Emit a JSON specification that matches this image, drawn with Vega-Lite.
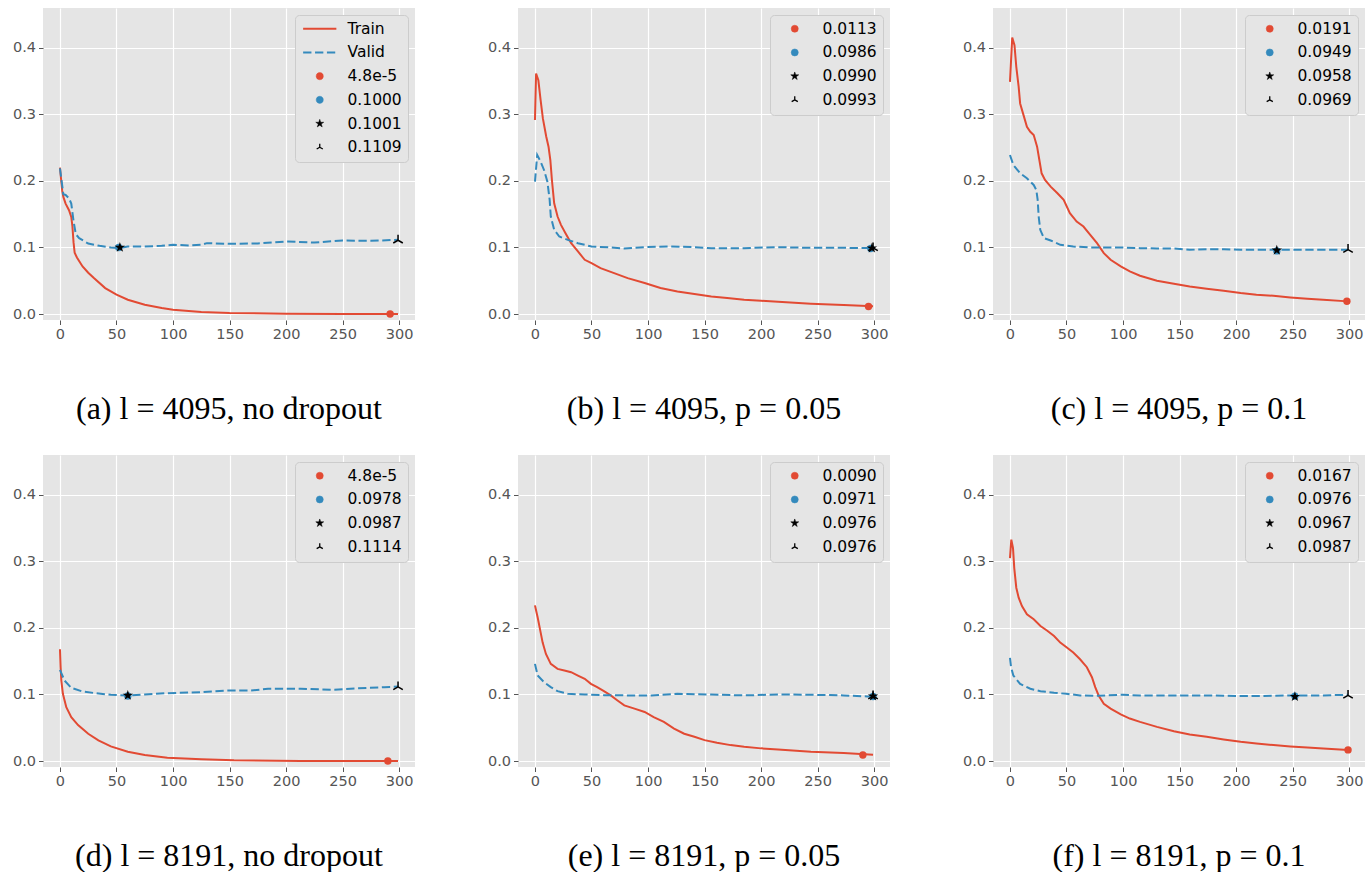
{
  "$schema": "https://vega.github.io/schema/vega-lite/v6.json",
  "padding": {"left": 12, "top": 8, "right": 4, "bottom": 0},
  "background": "white",
  "config": {
    "view": {"fill": "#E5E5E5", "stroke": null},
    "axis": {"domain": false, "grid": true, "gridColor": "#FFFFFF", "gridWidth": 1.2, "tickColor": "#555555", "tickSize": 4.5, "tickWidth": 1, "labelColor": "#555555", "labelFont": "DejaVu Sans", "labelFontSize": 14.5, "labelPadding": 3, "title": null},
    "legend": {"orient": "top-right", "offset": 7, "padding": 6, "fillColor": "#E5E5E5", "strokeColor": "#CCCCCC", "cornerRadius": 4, "labelFont": "DejaVu Sans", "labelFontSize": 15.5, "labelColor": "#000000", "rowPadding": 6.7, "symbolOffset": 11, "labelOffset": 20, "symbolSize": 50},
    "title": {"font": "Liberation Serif", "fontSize": 32, "fontWeight": "normal", "color": "#000000", "orient": "bottom", "anchor": "middle", "offset": 53}
  },
  "datasets": {
    "lines": [
      {"p":"a","k":"train","x":0,"y":0.22},{"p":"a","k":"train","x":2,"y":0.185},{"p":"a","k":"train","x":3,"y":0.176},{"p":"a","k":"train","x":5,"y":0.166},{"p":"a","k":"train","x":8,"y":0.156},{"p":"a","k":"train","x":10,"y":0.146},{"p":"a","k":"train","x":11,"y":0.132},{"p":"a","k":"train","x":12,"y":0.108},{"p":"a","k":"train","x":13,"y":0.092},{"p":"a","k":"train","x":15,"y":0.085},{"p":"a","k":"train","x":20,"y":0.0715},{"p":"a","k":"train","x":25,"y":0.062},{"p":"a","k":"train","x":30,"y":0.054},{"p":"a","k":"train","x":40,"y":0.039},{"p":"a","k":"train","x":50,"y":0.029},{"p":"a","k":"train","x":60,"y":0.0215},{"p":"a","k":"train","x":75,"y":0.014},{"p":"a","k":"train","x":90,"y":0.009},{"p":"a","k":"train","x":100,"y":0.0065},{"p":"a","k":"train","x":125,"y":0.003},{"p":"a","k":"train","x":150,"y":0.0015},{"p":"a","k":"train","x":200,"y":0.0005},{"p":"a","k":"train","x":250,"y":0.0002},{"p":"a","k":"train","x":299,"y":0.0},
      {"p":"a","k":"valid","x":0,"y":0.219},{"p":"a","k":"valid","x":3,"y":0.18},{"p":"a","k":"valid","x":5,"y":0.179},{"p":"a","k":"valid","x":8,"y":0.174},{"p":"a","k":"valid","x":10,"y":0.166},{"p":"a","k":"valid","x":12,"y":0.14},{"p":"a","k":"valid","x":14,"y":0.12},{"p":"a","k":"valid","x":17,"y":0.114},{"p":"a","k":"valid","x":25,"y":0.106},{"p":"a","k":"valid","x":35,"y":0.1025},{"p":"a","k":"valid","x":45,"y":0.1},{"p":"a","k":"valid","x":52,"y":0.099},{"p":"a","k":"valid","x":60,"y":0.1015},{"p":"a","k":"valid","x":75,"y":0.1015},{"p":"a","k":"valid","x":90,"y":0.1025},{"p":"a","k":"valid","x":100,"y":0.104},{"p":"a","k":"valid","x":115,"y":0.103},{"p":"a","k":"valid","x":125,"y":0.104},{"p":"a","k":"valid","x":130,"y":0.1065},{"p":"a","k":"valid","x":150,"y":0.1055},{"p":"a","k":"valid","x":175,"y":0.106},{"p":"a","k":"valid","x":200,"y":0.109},{"p":"a","k":"valid","x":225,"y":0.1075},{"p":"a","k":"valid","x":250,"y":0.1105},{"p":"a","k":"valid","x":275,"y":0.11},{"p":"a","k":"valid","x":299,"y":0.1115},
      {"p":"b","k":"train","x":0,"y":0.2915},{"p":"b","k":"train","x":1,"y":0.3615},{"p":"b","k":"train","x":3,"y":0.3515},{"p":"b","k":"train","x":5,"y":0.3215},{"p":"b","k":"train","x":7,"y":0.294},{"p":"b","k":"train","x":10,"y":0.2665},{"p":"b","k":"train","x":12,"y":0.2515},{"p":"b","k":"train","x":13.6,"y":0.2315},{"p":"b","k":"train","x":15,"y":0.2015},{"p":"b","k":"train","x":17,"y":0.1665},{"p":"b","k":"train","x":20,"y":0.1465},{"p":"b","k":"train","x":23,"y":0.134},{"p":"b","k":"train","x":27,"y":0.1215},{"p":"b","k":"train","x":32,"y":0.1065},{"p":"b","k":"train","x":38,"y":0.094},{"p":"b","k":"train","x":44,"y":0.0815},{"p":"b","k":"train","x":50,"y":0.0765},{"p":"b","k":"train","x":58,"y":0.069},{"p":"b","k":"train","x":70,"y":0.0615},{"p":"b","k":"train","x":82,"y":0.054},{"p":"b","k":"train","x":97,"y":0.0465},{"p":"b","k":"train","x":111,"y":0.039},{"p":"b","k":"train","x":126,"y":0.034},{"p":"b","k":"train","x":141,"y":0.03},{"p":"b","k":"train","x":156,"y":0.0265},{"p":"b","k":"train","x":170,"y":0.024},{"p":"b","k":"train","x":185,"y":0.0215},{"p":"b","k":"train","x":200,"y":0.02},{"p":"b","k":"train","x":215,"y":0.0185},{"p":"b","k":"train","x":244,"y":0.0155},{"p":"b","k":"train","x":273,"y":0.0135},{"p":"b","k":"train","x":299,"y":0.0115},
      {"p":"b","k":"valid","x":0,"y":0.199},{"p":"b","k":"valid","x":2,"y":0.239},{"p":"b","k":"valid","x":5,"y":0.229},{"p":"b","k":"valid","x":8,"y":0.2165},{"p":"b","k":"valid","x":11,"y":0.199},{"p":"b","k":"valid","x":13,"y":0.1715},{"p":"b","k":"valid","x":14,"y":0.1465},{"p":"b","k":"valid","x":17,"y":0.1265},{"p":"b","k":"valid","x":21.5,"y":0.1165},{"p":"b","k":"valid","x":29,"y":0.1115},{"p":"b","k":"valid","x":38,"y":0.1065},{"p":"b","k":"valid","x":50,"y":0.1015},{"p":"b","k":"valid","x":67,"y":0.1},{"p":"b","k":"valid","x":79,"y":0.0985},{"p":"b","k":"valid","x":97,"y":0.1005},{"p":"b","k":"valid","x":120,"y":0.1015},{"p":"b","k":"valid","x":141,"y":0.1005},{"p":"b","k":"valid","x":156,"y":0.099},{"p":"b","k":"valid","x":185,"y":0.099},{"p":"b","k":"valid","x":215,"y":0.1005},{"p":"b","k":"valid","x":244,"y":0.0995},{"p":"b","k":"valid","x":273,"y":0.0995},{"p":"b","k":"valid","x":299,"y":0.099},
      {"p":"c","k":"train","x":0,"y":0.349},{"p":"c","k":"train","x":2,"y":0.4155},{"p":"c","k":"train","x":4,"y":0.404},{"p":"c","k":"train","x":5.6,"y":0.3715},{"p":"c","k":"train","x":7.7,"y":0.3415},{"p":"c","k":"train","x":9,"y":0.3165},{"p":"c","k":"train","x":12,"y":0.299},{"p":"c","k":"train","x":15,"y":0.2815},{"p":"c","k":"train","x":18,"y":0.274},{"p":"c","k":"train","x":21,"y":0.269},{"p":"c","k":"train","x":24,"y":0.2515},{"p":"c","k":"train","x":26,"y":0.2315},{"p":"c","k":"train","x":28,"y":0.2115},{"p":"c","k":"train","x":31,"y":0.2015},{"p":"c","k":"train","x":36,"y":0.1915},{"p":"c","k":"train","x":42,"y":0.1815},{"p":"c","k":"train","x":47.5,"y":0.1715},{"p":"c","k":"train","x":53,"y":0.1515},{"p":"c","k":"train","x":59,"y":0.139},{"p":"c","k":"train","x":65,"y":0.1315},{"p":"c","k":"train","x":71,"y":0.119},{"p":"c","k":"train","x":77,"y":0.1065},{"p":"c","k":"train","x":83,"y":0.0915},{"p":"c","k":"train","x":89,"y":0.0815},{"p":"c","k":"train","x":98,"y":0.0715},{"p":"c","k":"train","x":106,"y":0.064},{"p":"c","k":"train","x":115,"y":0.0575},{"p":"c","k":"train","x":130,"y":0.05},{"p":"c","k":"train","x":145,"y":0.0455},{"p":"c","k":"train","x":159,"y":0.0415},{"p":"c","k":"train","x":174,"y":0.038},{"p":"c","k":"train","x":189,"y":0.035},{"p":"c","k":"train","x":204,"y":0.0315},{"p":"c","k":"train","x":218,"y":0.029},{"p":"c","k":"train","x":233,"y":0.0275},{"p":"c","k":"train","x":248,"y":0.025},{"p":"c","k":"train","x":263,"y":0.023},{"p":"c","k":"train","x":277,"y":0.0215},{"p":"c","k":"train","x":299,"y":0.019},
      {"p":"c","k":"valid","x":0,"y":0.239},{"p":"c","k":"valid","x":3,"y":0.224},{"p":"c","k":"valid","x":9,"y":0.2115},{"p":"c","k":"valid","x":15,"y":0.204},{"p":"c","k":"valid","x":21,"y":0.194},{"p":"c","k":"valid","x":23.3,"y":0.1865},{"p":"c","k":"valid","x":24.5,"y":0.1715},{"p":"c","k":"valid","x":25.4,"y":0.1465},{"p":"c","k":"valid","x":26.8,"y":0.1265},{"p":"c","k":"valid","x":30,"y":0.114},{"p":"c","k":"valid","x":36,"y":0.1105},{"p":"c","k":"valid","x":44.5,"y":0.104},{"p":"c","k":"valid","x":56,"y":0.1015},{"p":"c","k":"valid","x":71,"y":0.1},{"p":"c","k":"valid","x":86,"y":0.1},{"p":"c","k":"valid","x":100,"y":0.1},{"p":"c","k":"valid","x":115,"y":0.099},{"p":"c","k":"valid","x":130,"y":0.0985},{"p":"c","k":"valid","x":145,"y":0.0985},{"p":"c","k":"valid","x":159,"y":0.0965},{"p":"c","k":"valid","x":174,"y":0.0975},{"p":"c","k":"valid","x":189,"y":0.0975},{"p":"c","k":"valid","x":204,"y":0.0965},{"p":"c","k":"valid","x":233,"y":0.0965},{"p":"c","k":"valid","x":262,"y":0.0965},{"p":"c","k":"valid","x":299,"y":0.0965},
      {"p":"d","k":"train","x":0,"y":0.168},{"p":"d","k":"train","x":0.6,"y":0.141},{"p":"d","k":"train","x":1.2,"y":0.121},{"p":"d","k":"train","x":2.6,"y":0.101},{"p":"d","k":"train","x":5.6,"y":0.081},{"p":"d","k":"train","x":10,"y":0.066},{"p":"d","k":"train","x":16,"y":0.054},{"p":"d","k":"train","x":25,"y":0.041},{"p":"d","k":"train","x":34,"y":0.031},{"p":"d","k":"train","x":45,"y":0.022},{"p":"d","k":"train","x":60,"y":0.014},{"p":"d","k":"train","x":75,"y":0.009},{"p":"d","k":"train","x":95,"y":0.005},{"p":"d","k":"train","x":125,"y":0.0025},{"p":"d","k":"train","x":154,"y":0.001},{"p":"d","k":"train","x":213,"y":0.0002},{"p":"d","k":"train","x":299,"y":0.0},
      {"p":"d","k":"valid","x":0,"y":0.137},{"p":"d","k":"valid","x":4,"y":0.121},{"p":"d","k":"valid","x":10,"y":0.11},{"p":"d","k":"valid","x":19,"y":0.105},{"p":"d","k":"valid","x":31,"y":0.102},{"p":"d","k":"valid","x":45,"y":0.0996},{"p":"d","k":"valid","x":60,"y":0.0986},{"p":"d","k":"valid","x":75,"y":0.1},{"p":"d","k":"valid","x":95,"y":0.102},{"p":"d","k":"valid","x":125,"y":0.1036},{"p":"d","k":"valid","x":148,"y":0.106},{"p":"d","k":"valid","x":169,"y":0.106},{"p":"d","k":"valid","x":184,"y":0.1086},{"p":"d","k":"valid","x":213,"y":0.1086},{"p":"d","k":"valid","x":242,"y":0.107},{"p":"d","k":"valid","x":257,"y":0.1086},{"p":"d","k":"valid","x":272,"y":0.11},{"p":"d","k":"valid","x":287,"y":0.111},{"p":"d","k":"valid","x":299,"y":0.112},
      {"p":"e","k":"train","x":0,"y":0.234},{"p":"e","k":"train","x":2.4,"y":0.2157},{"p":"e","k":"train","x":4.7,"y":0.196},{"p":"e","k":"train","x":6.8,"y":0.178},{"p":"e","k":"train","x":9.7,"y":0.161},{"p":"e","k":"train","x":14,"y":0.146},{"p":"e","k":"train","x":20,"y":0.1385},{"p":"e","k":"train","x":26,"y":0.136},{"p":"e","k":"train","x":32,"y":0.1335},{"p":"e","k":"train","x":38,"y":0.1285},{"p":"e","k":"train","x":44,"y":0.1236},{"p":"e","k":"train","x":49.5,"y":0.116},{"p":"e","k":"train","x":55,"y":0.111},{"p":"e","k":"train","x":61,"y":0.105},{"p":"e","k":"train","x":67,"y":0.0986},{"p":"e","k":"train","x":73,"y":0.091},{"p":"e","k":"train","x":79,"y":0.0837},{"p":"e","k":"train","x":88,"y":0.0787},{"p":"e","k":"train","x":97,"y":0.0737},{"p":"e","k":"train","x":105,"y":0.066},{"p":"e","k":"train","x":114,"y":0.0588},{"p":"e","k":"train","x":123,"y":0.0488},{"p":"e","k":"train","x":132,"y":0.041},{"p":"e","k":"train","x":141,"y":0.0364},{"p":"e","k":"train","x":150,"y":0.0314},{"p":"e","k":"train","x":161,"y":0.0274},{"p":"e","k":"train","x":173,"y":0.0239},{"p":"e","k":"train","x":185,"y":0.0214},{"p":"e","k":"train","x":200,"y":0.019},{"p":"e","k":"train","x":215,"y":0.0174},{"p":"e","k":"train","x":244,"y":0.014},{"p":"e","k":"train","x":273,"y":0.012},{"p":"e","k":"train","x":299,"y":0.0095},
      {"p":"e","k":"valid","x":0,"y":0.146},{"p":"e","k":"valid","x":2.4,"y":0.1285},{"p":"e","k":"valid","x":8,"y":0.1186},{"p":"e","k":"valid","x":14,"y":0.111},{"p":"e","k":"valid","x":20,"y":0.105},{"p":"e","k":"valid","x":29,"y":0.101},{"p":"e","k":"valid","x":44,"y":0.1},{"p":"e","k":"valid","x":61,"y":0.099},{"p":"e","k":"valid","x":82,"y":0.0986},{"p":"e","k":"valid","x":103,"y":0.0986},{"p":"e","k":"valid","x":126,"y":0.101},{"p":"e","k":"valid","x":156,"y":0.1},{"p":"e","k":"valid","x":185,"y":0.0986},{"p":"e","k":"valid","x":215,"y":0.1},{"p":"e","k":"valid","x":244,"y":0.0996},{"p":"e","k":"valid","x":273,"y":0.0986},{"p":"e","k":"valid","x":294,"y":0.097},{"p":"e","k":"valid","x":299,"y":0.097},
      {"p":"f","k":"train","x":0,"y":0.305},{"p":"f","k":"train","x":1.2,"y":0.3327},{"p":"f","k":"train","x":2.7,"y":0.32},{"p":"f","k":"train","x":3.8,"y":0.29},{"p":"f","k":"train","x":5.6,"y":0.2605},{"p":"f","k":"train","x":7.7,"y":0.2455},{"p":"f","k":"train","x":10.6,"y":0.233},{"p":"f","k":"train","x":15,"y":0.2207},{"p":"f","k":"train","x":21,"y":0.213},{"p":"f","k":"train","x":27,"y":0.203},{"p":"f","k":"train","x":33,"y":0.1958},{"p":"f","k":"train","x":39,"y":0.188},{"p":"f","k":"train","x":44.5,"y":0.178},{"p":"f","k":"train","x":50,"y":0.171},{"p":"f","k":"train","x":56,"y":0.163},{"p":"f","k":"train","x":62,"y":0.153},{"p":"f","k":"train","x":68,"y":0.141},{"p":"f","k":"train","x":72.5,"y":0.126},{"p":"f","k":"train","x":75.4,"y":0.111},{"p":"f","k":"train","x":78.4,"y":0.0986},{"p":"f","k":"train","x":83,"y":0.086},{"p":"f","k":"train","x":89,"y":0.0787},{"p":"f","k":"train","x":98,"y":0.07},{"p":"f","k":"train","x":106,"y":0.0638},{"p":"f","k":"train","x":115,"y":0.0588},{"p":"f","k":"train","x":130,"y":0.0513},{"p":"f","k":"train","x":145,"y":0.0448},{"p":"f","k":"train","x":159,"y":0.04},{"p":"f","k":"train","x":174,"y":0.0364},{"p":"f","k":"train","x":189,"y":0.0324},{"p":"f","k":"train","x":204,"y":0.0289},{"p":"f","k":"train","x":218,"y":0.0264},{"p":"f","k":"train","x":233,"y":0.0239},{"p":"f","k":"train","x":248,"y":0.0219},{"p":"f","k":"train","x":263,"y":0.0204},{"p":"f","k":"train","x":277,"y":0.0189},{"p":"f","k":"train","x":299,"y":0.0167},
      {"p":"f","k":"valid","x":0,"y":0.155},{"p":"f","k":"valid","x":1,"y":0.141},{"p":"f","k":"valid","x":3,"y":0.1285},{"p":"f","k":"valid","x":9,"y":0.116},{"p":"f","k":"valid","x":18,"y":0.1086},{"p":"f","k":"valid","x":27,"y":0.105},{"p":"f","k":"valid","x":39,"y":0.1026},{"p":"f","k":"valid","x":50,"y":0.101},{"p":"f","k":"valid","x":62,"y":0.0986},{"p":"f","k":"valid","x":74,"y":0.098},{"p":"f","k":"valid","x":86,"y":0.0986},{"p":"f","k":"valid","x":100,"y":0.0996},{"p":"f","k":"valid","x":115,"y":0.0986},{"p":"f","k":"valid","x":145,"y":0.0986},{"p":"f","k":"valid","x":174,"y":0.0986},{"p":"f","k":"valid","x":204,"y":0.0976},{"p":"f","k":"valid","x":233,"y":0.098},{"p":"f","k":"valid","x":251,"y":0.0986},{"p":"f","k":"valid","x":277,"y":0.0986},{"p":"f","k":"valid","x":299,"y":0.0996}
    ],
    "marks": [
      {"p":"a","k":"rc","x":292,"y":0.000048},{"p":"a","k":"bc","x":52,"y":0.1},{"p":"a","k":"star","x":53,"y":0.1001},{"p":"a","k":"tri","x":299,"y":0.1109},
      {"p":"b","k":"rc","x":295,"y":0.0113},{"p":"b","k":"bc","x":297,"y":0.0986},{"p":"b","k":"star","x":298,"y":0.099},{"p":"b","k":"tri","x":299,"y":0.0993},
      {"p":"c","k":"rc","x":298,"y":0.0191},{"p":"c","k":"bc","x":236,"y":0.0949},{"p":"c","k":"star","x":236,"y":0.0958},{"p":"c","k":"tri","x":299,"y":0.0969},
      {"p":"d","k":"rc","x":290,"y":0.000048},{"p":"d","k":"bc","x":60,"y":0.0978},{"p":"d","k":"star","x":60,"y":0.0987},{"p":"d","k":"tri","x":299,"y":0.1114},
      {"p":"e","k":"rc","x":290,"y":0.009},{"p":"e","k":"bc","x":299,"y":0.0971},{"p":"e","k":"star","x":299,"y":0.0976},{"p":"e","k":"tri","x":299,"y":0.0976},
      {"p":"f","k":"rc","x":299,"y":0.0167},{"p":"f","k":"bc","x":252,"y":0.0976},{"p":"f","k":"star","x":252,"y":0.0967},{"p":"f","k":"tri","x":299,"y":0.0987}
    ]
  },
  "columns": 3,
  "spacing": {"row": 30, "column": 72},
  "resolve": {"scale": {"color": "independent", "x": "independent", "y": "independent"}, "legend": {"color": "independent"}},
  "concat": [
    {
      "width": 372, "height": 312,
      "title": {"text": "(a) l  =  4095, no dropout"},
      "encoding": {
        "x": {"field": "x", "type": "quantitative", "title": null, "scale": {"domain": [-15, 314], "nice": false, "zero": false}, "axis": {"values": [0, 50, 100, 150, 200, 250, 300]}},
        "y": {"field": "y", "type": "quantitative", "title": null, "scale": {"domain": [-0.009, 0.46], "nice": false, "zero": false}, "axis": {"values": [0, 0.1, 0.2, 0.3, 0.4], "format": ".1f"}},
        "color": {"field": "k", "type": "nominal", "scale": {"domain": ["train", "valid", "rc", "bc", "star", "tri"], "range": ["#E24A33", "#348ABD", "#E24A33", "#348ABD", "#000000", "#000000"]},
          "legend": {"title": null, "values": ["train", "valid", "rc", "bc", "star", "tri"],
            "labelExpr": "datum.value=='train' ? 'Train' : datum.value=='valid' ? 'Valid' : datum.value=='rc' ? '4.8e-5' : datum.value=='bc' ? '0.1000' : datum.value=='star' ? '0.1001' : '0.1109'",
            "encode": {"symbols": {"update": {
              "shape": {"signal": "datum.value=='train'||datum.value=='valid' ? 'M-4.7,0H4.7' : datum.value=='star' ? 'M0,-1L0.225,-0.309L0.951,-0.309L0.363,0.118L0.588,0.809L0,0.382L-0.588,0.809L-0.363,0.118L-0.951,-0.309L-0.225,-0.309Z' : datum.value=='tri' ? 'M0,0L0,-1M0,0L-0.87,0.5M0,0L0.87,0.5' : 'circle'"},
              "size": {"signal": "datum.value=='star' ? 70 : 50"},
              "fill": {"signal": "datum.value=='rc' ? '#E24A33' : datum.value=='bc' ? '#348ABD' : datum.value=='star' ? '#000000' : 'transparent'"},
              "stroke": {"signal": "datum.value=='train'||datum.value=='rc' ? '#E24A33' : datum.value=='valid'||datum.value=='bc' ? '#348ABD' : '#000000'"},
              "strokeWidth": {"signal": "datum.value=='train'||datum.value=='valid' ? 2 : datum.value=='tri' ? 1.3 : 0.5"},
              "strokeDash": {"signal": "datum.value=='valid' ? [8.3,3.6] : [1,0]"},
              "opacity": {"value": 1}
            }}}}}
      },
      "layer": [
        {"data": {"name": "lines"}, "transform": [{"filter": "datum.p=='a' && datum.k=='train'"}], "mark": {"type": "line", "strokeWidth": 2}},
        {"data": {"name": "lines"}, "transform": [{"filter": "datum.p=='a' && datum.k=='valid'"}], "mark": {"type": "line", "strokeWidth": 2, "strokeDash": [8.3, 3.6]}},
        {"data": {"name": "marks"}, "transform": [{"filter": "datum.p=='a' && (datum.k=='rc' || datum.k=='bc')"}], "mark": {"type": "point", "shape": "circle", "filled": true, "size": 55, "opacity": 1}},
        {"data": {"name": "marks"}, "transform": [{"filter": "datum.p=='a' && datum.k=='star'"}], "mark": {"type": "point", "shape": "M0,-1L0.225,-0.309L0.951,-0.309L0.363,0.118L0.588,0.809L0,0.382L-0.588,0.809L-0.363,0.118L-0.951,-0.309L-0.225,-0.309Z", "filled": true, "size": 120, "opacity": 1}},
        {"data": {"name": "marks"}, "transform": [{"filter": "datum.p=='a' && datum.k=='tri'"}], "mark": {"type": "point", "shape": "M0,0L0,-1M0,0L-0.87,0.5M0,0L0.87,0.5", "filled": false, "size": 120, "strokeWidth": 1.5, "opacity": 1}}
      ]
    },
    {
      "width": 372, "height": 312,
      "title": {"text": "(b) l  =  4095, p  =  0.05"},
      "encoding": {
        "x": {"field": "x", "type": "quantitative", "title": null, "scale": {"domain": [-15, 314], "nice": false, "zero": false}, "axis": {"values": [0, 50, 100, 150, 200, 250, 300]}},
        "y": {"field": "y", "type": "quantitative", "title": null, "scale": {"domain": [-0.009, 0.46], "nice": false, "zero": false}, "axis": {"values": [0, 0.1, 0.2, 0.3, 0.4], "format": ".1f"}},
        "color": {"field": "k", "type": "nominal", "scale": {"domain": ["train", "valid", "rc", "bc", "star", "tri"], "range": ["#E24A33", "#348ABD", "#E24A33", "#348ABD", "#000000", "#000000"]},
          "legend": {"title": null, "values": ["rc", "bc", "star", "tri"],
            "labelExpr": "datum.value=='rc' ? '0.0113' : datum.value=='bc' ? '0.0986' : datum.value=='star' ? '0.0990' : '0.0993'",
            "encode": {"symbols": {"update": {
              "shape": {"signal": "datum.value=='star' ? 'M0,-1L0.225,-0.309L0.951,-0.309L0.363,0.118L0.588,0.809L0,0.382L-0.588,0.809L-0.363,0.118L-0.951,-0.309L-0.225,-0.309Z' : datum.value=='tri' ? 'M0,0L0,-1M0,0L-0.87,0.5M0,0L0.87,0.5' : 'circle'"},
              "size": {"signal": "datum.value=='star' ? 70 : 50"},
              "fill": {"signal": "datum.value=='rc' ? '#E24A33' : datum.value=='bc' ? '#348ABD' : datum.value=='star' ? '#000000' : 'transparent'"},
              "stroke": {"signal": "datum.value=='rc' ? '#E24A33' : datum.value=='bc' ? '#348ABD' : '#000000'"},
              "strokeWidth": {"signal": "datum.value=='tri' ? 1.3 : 0.5"},
              "opacity": {"value": 1}
            }}}}}
      },
      "layer": [
        {"data": {"name": "lines"}, "transform": [{"filter": "datum.p=='b' && datum.k=='train'"}], "mark": {"type": "line", "strokeWidth": 2}},
        {"data": {"name": "lines"}, "transform": [{"filter": "datum.p=='b' && datum.k=='valid'"}], "mark": {"type": "line", "strokeWidth": 2, "strokeDash": [8.3, 3.6]}},
        {"data": {"name": "marks"}, "transform": [{"filter": "datum.p=='b' && (datum.k=='rc' || datum.k=='bc')"}], "mark": {"type": "point", "shape": "circle", "filled": true, "size": 55, "opacity": 1}},
        {"data": {"name": "marks"}, "transform": [{"filter": "datum.p=='b' && datum.k=='star'"}], "mark": {"type": "point", "shape": "M0,-1L0.225,-0.309L0.951,-0.309L0.363,0.118L0.588,0.809L0,0.382L-0.588,0.809L-0.363,0.118L-0.951,-0.309L-0.225,-0.309Z", "filled": true, "size": 120, "opacity": 1}},
        {"data": {"name": "marks"}, "transform": [{"filter": "datum.p=='b' && datum.k=='tri'"}], "mark": {"type": "point", "shape": "M0,0L0,-1M0,0L-0.87,0.5M0,0L0.87,0.5", "filled": false, "size": 120, "strokeWidth": 1.5, "opacity": 1}}
      ]
    },
    {
      "width": 372, "height": 312,
      "title": {"text": "(c) l  =  4095, p  =  0.1"},
      "encoding": {
        "x": {"field": "x", "type": "quantitative", "title": null, "scale": {"domain": [-15, 314], "nice": false, "zero": false}, "axis": {"values": [0, 50, 100, 150, 200, 250, 300]}},
        "y": {"field": "y", "type": "quantitative", "title": null, "scale": {"domain": [-0.009, 0.46], "nice": false, "zero": false}, "axis": {"values": [0, 0.1, 0.2, 0.3, 0.4], "format": ".1f"}},
        "color": {"field": "k", "type": "nominal", "scale": {"domain": ["train", "valid", "rc", "bc", "star", "tri"], "range": ["#E24A33", "#348ABD", "#E24A33", "#348ABD", "#000000", "#000000"]},
          "legend": {"title": null, "values": ["rc", "bc", "star", "tri"],
            "labelExpr": "datum.value=='rc' ? '0.0191' : datum.value=='bc' ? '0.0949' : datum.value=='star' ? '0.0958' : '0.0969'",
            "encode": {"symbols": {"update": {
              "shape": {"signal": "datum.value=='star' ? 'M0,-1L0.225,-0.309L0.951,-0.309L0.363,0.118L0.588,0.809L0,0.382L-0.588,0.809L-0.363,0.118L-0.951,-0.309L-0.225,-0.309Z' : datum.value=='tri' ? 'M0,0L0,-1M0,0L-0.87,0.5M0,0L0.87,0.5' : 'circle'"},
              "size": {"signal": "datum.value=='star' ? 70 : 50"},
              "fill": {"signal": "datum.value=='rc' ? '#E24A33' : datum.value=='bc' ? '#348ABD' : datum.value=='star' ? '#000000' : 'transparent'"},
              "stroke": {"signal": "datum.value=='rc' ? '#E24A33' : datum.value=='bc' ? '#348ABD' : '#000000'"},
              "strokeWidth": {"signal": "datum.value=='tri' ? 1.3 : 0.5"},
              "opacity": {"value": 1}
            }}}}}
      },
      "layer": [
        {"data": {"name": "lines"}, "transform": [{"filter": "datum.p=='c' && datum.k=='train'"}], "mark": {"type": "line", "strokeWidth": 2}},
        {"data": {"name": "lines"}, "transform": [{"filter": "datum.p=='c' && datum.k=='valid'"}], "mark": {"type": "line", "strokeWidth": 2, "strokeDash": [8.3, 3.6]}},
        {"data": {"name": "marks"}, "transform": [{"filter": "datum.p=='c' && (datum.k=='rc' || datum.k=='bc')"}], "mark": {"type": "point", "shape": "circle", "filled": true, "size": 55, "opacity": 1}},
        {"data": {"name": "marks"}, "transform": [{"filter": "datum.p=='c' && datum.k=='star'"}], "mark": {"type": "point", "shape": "M0,-1L0.225,-0.309L0.951,-0.309L0.363,0.118L0.588,0.809L0,0.382L-0.588,0.809L-0.363,0.118L-0.951,-0.309L-0.225,-0.309Z", "filled": true, "size": 120, "opacity": 1}},
        {"data": {"name": "marks"}, "transform": [{"filter": "datum.p=='c' && datum.k=='tri'"}], "mark": {"type": "point", "shape": "M0,0L0,-1M0,0L-0.87,0.5M0,0L0.87,0.5", "filled": false, "size": 120, "strokeWidth": 1.5, "opacity": 1}}
      ]
    },
    {
      "width": 372, "height": 312,
      "title": {"text": "(d) l  =  8191, no dropout"},
      "encoding": {
        "x": {"field": "x", "type": "quantitative", "title": null, "scale": {"domain": [-15, 314], "nice": false, "zero": false}, "axis": {"values": [0, 50, 100, 150, 200, 250, 300]}},
        "y": {"field": "y", "type": "quantitative", "title": null, "scale": {"domain": [-0.009, 0.46], "nice": false, "zero": false}, "axis": {"values": [0, 0.1, 0.2, 0.3, 0.4], "format": ".1f"}},
        "color": {"field": "k", "type": "nominal", "scale": {"domain": ["train", "valid", "rc", "bc", "star", "tri"], "range": ["#E24A33", "#348ABD", "#E24A33", "#348ABD", "#000000", "#000000"]},
          "legend": {"title": null, "values": ["rc", "bc", "star", "tri"],
            "labelExpr": "datum.value=='rc' ? '4.8e-5' : datum.value=='bc' ? '0.0978' : datum.value=='star' ? '0.0987' : '0.1114'",
            "encode": {"symbols": {"update": {
              "shape": {"signal": "datum.value=='star' ? 'M0,-1L0.225,-0.309L0.951,-0.309L0.363,0.118L0.588,0.809L0,0.382L-0.588,0.809L-0.363,0.118L-0.951,-0.309L-0.225,-0.309Z' : datum.value=='tri' ? 'M0,0L0,-1M0,0L-0.87,0.5M0,0L0.87,0.5' : 'circle'"},
              "size": {"signal": "datum.value=='star' ? 70 : 50"},
              "fill": {"signal": "datum.value=='rc' ? '#E24A33' : datum.value=='bc' ? '#348ABD' : datum.value=='star' ? '#000000' : 'transparent'"},
              "stroke": {"signal": "datum.value=='rc' ? '#E24A33' : datum.value=='bc' ? '#348ABD' : '#000000'"},
              "strokeWidth": {"signal": "datum.value=='tri' ? 1.3 : 0.5"},
              "opacity": {"value": 1}
            }}}}}
      },
      "layer": [
        {"data": {"name": "lines"}, "transform": [{"filter": "datum.p=='d' && datum.k=='train'"}], "mark": {"type": "line", "strokeWidth": 2}},
        {"data": {"name": "lines"}, "transform": [{"filter": "datum.p=='d' && datum.k=='valid'"}], "mark": {"type": "line", "strokeWidth": 2, "strokeDash": [8.3, 3.6]}},
        {"data": {"name": "marks"}, "transform": [{"filter": "datum.p=='d' && (datum.k=='rc' || datum.k=='bc')"}], "mark": {"type": "point", "shape": "circle", "filled": true, "size": 55, "opacity": 1}},
        {"data": {"name": "marks"}, "transform": [{"filter": "datum.p=='d' && datum.k=='star'"}], "mark": {"type": "point", "shape": "M0,-1L0.225,-0.309L0.951,-0.309L0.363,0.118L0.588,0.809L0,0.382L-0.588,0.809L-0.363,0.118L-0.951,-0.309L-0.225,-0.309Z", "filled": true, "size": 120, "opacity": 1}},
        {"data": {"name": "marks"}, "transform": [{"filter": "datum.p=='d' && datum.k=='tri'"}], "mark": {"type": "point", "shape": "M0,0L0,-1M0,0L-0.87,0.5M0,0L0.87,0.5", "filled": false, "size": 120, "strokeWidth": 1.5, "opacity": 1}}
      ]
    },
    {
      "width": 372, "height": 312,
      "title": {"text": "(e) l  =  8191, p  =  0.05"},
      "encoding": {
        "x": {"field": "x", "type": "quantitative", "title": null, "scale": {"domain": [-15, 314], "nice": false, "zero": false}, "axis": {"values": [0, 50, 100, 150, 200, 250, 300]}},
        "y": {"field": "y", "type": "quantitative", "title": null, "scale": {"domain": [-0.009, 0.46], "nice": false, "zero": false}, "axis": {"values": [0, 0.1, 0.2, 0.3, 0.4], "format": ".1f"}},
        "color": {"field": "k", "type": "nominal", "scale": {"domain": ["train", "valid", "rc", "bc", "star", "tri"], "range": ["#E24A33", "#348ABD", "#E24A33", "#348ABD", "#000000", "#000000"]},
          "legend": {"title": null, "values": ["rc", "bc", "star", "tri"],
            "labelExpr": "datum.value=='rc' ? '0.0090' : datum.value=='bc' ? '0.0971' : datum.value=='star' ? '0.0976' : '0.0976'",
            "encode": {"symbols": {"update": {
              "shape": {"signal": "datum.value=='star' ? 'M0,-1L0.225,-0.309L0.951,-0.309L0.363,0.118L0.588,0.809L0,0.382L-0.588,0.809L-0.363,0.118L-0.951,-0.309L-0.225,-0.309Z' : datum.value=='tri' ? 'M0,0L0,-1M0,0L-0.87,0.5M0,0L0.87,0.5' : 'circle'"},
              "size": {"signal": "datum.value=='star' ? 70 : 50"},
              "fill": {"signal": "datum.value=='rc' ? '#E24A33' : datum.value=='bc' ? '#348ABD' : datum.value=='star' ? '#000000' : 'transparent'"},
              "stroke": {"signal": "datum.value=='rc' ? '#E24A33' : datum.value=='bc' ? '#348ABD' : '#000000'"},
              "strokeWidth": {"signal": "datum.value=='tri' ? 1.3 : 0.5"},
              "opacity": {"value": 1}
            }}}}}
      },
      "layer": [
        {"data": {"name": "lines"}, "transform": [{"filter": "datum.p=='e' && datum.k=='train'"}], "mark": {"type": "line", "strokeWidth": 2}},
        {"data": {"name": "lines"}, "transform": [{"filter": "datum.p=='e' && datum.k=='valid'"}], "mark": {"type": "line", "strokeWidth": 2, "strokeDash": [8.3, 3.6]}},
        {"data": {"name": "marks"}, "transform": [{"filter": "datum.p=='e' && (datum.k=='rc' || datum.k=='bc')"}], "mark": {"type": "point", "shape": "circle", "filled": true, "size": 55, "opacity": 1}},
        {"data": {"name": "marks"}, "transform": [{"filter": "datum.p=='e' && datum.k=='star'"}], "mark": {"type": "point", "shape": "M0,-1L0.225,-0.309L0.951,-0.309L0.363,0.118L0.588,0.809L0,0.382L-0.588,0.809L-0.363,0.118L-0.951,-0.309L-0.225,-0.309Z", "filled": true, "size": 120, "opacity": 1}},
        {"data": {"name": "marks"}, "transform": [{"filter": "datum.p=='e' && datum.k=='tri'"}], "mark": {"type": "point", "shape": "M0,0L0,-1M0,0L-0.87,0.5M0,0L0.87,0.5", "filled": false, "size": 120, "strokeWidth": 1.5, "opacity": 1}}
      ]
    },
    {
      "width": 372, "height": 312,
      "title": {"text": "(f) l  =  8191, p  =  0.1"},
      "encoding": {
        "x": {"field": "x", "type": "quantitative", "title": null, "scale": {"domain": [-15, 314], "nice": false, "zero": false}, "axis": {"values": [0, 50, 100, 150, 200, 250, 300]}},
        "y": {"field": "y", "type": "quantitative", "title": null, "scale": {"domain": [-0.009, 0.46], "nice": false, "zero": false}, "axis": {"values": [0, 0.1, 0.2, 0.3, 0.4], "format": ".1f"}},
        "color": {"field": "k", "type": "nominal", "scale": {"domain": ["train", "valid", "rc", "bc", "star", "tri"], "range": ["#E24A33", "#348ABD", "#E24A33", "#348ABD", "#000000", "#000000"]},
          "legend": {"title": null, "values": ["rc", "bc", "star", "tri"],
            "labelExpr": "datum.value=='rc' ? '0.0167' : datum.value=='bc' ? '0.0976' : datum.value=='star' ? '0.0967' : '0.0987'",
            "encode": {"symbols": {"update": {
              "shape": {"signal": "datum.value=='star' ? 'M0,-1L0.225,-0.309L0.951,-0.309L0.363,0.118L0.588,0.809L0,0.382L-0.588,0.809L-0.363,0.118L-0.951,-0.309L-0.225,-0.309Z' : datum.value=='tri' ? 'M0,0L0,-1M0,0L-0.87,0.5M0,0L0.87,0.5' : 'circle'"},
              "size": {"signal": "datum.value=='star' ? 70 : 50"},
              "fill": {"signal": "datum.value=='rc' ? '#E24A33' : datum.value=='bc' ? '#348ABD' : datum.value=='star' ? '#000000' : 'transparent'"},
              "stroke": {"signal": "datum.value=='rc' ? '#E24A33' : datum.value=='bc' ? '#348ABD' : '#000000'"},
              "strokeWidth": {"signal": "datum.value=='tri' ? 1.3 : 0.5"},
              "opacity": {"value": 1}
            }}}}}
      },
      "layer": [
        {"data": {"name": "lines"}, "transform": [{"filter": "datum.p=='f' && datum.k=='train'"}], "mark": {"type": "line", "strokeWidth": 2}},
        {"data": {"name": "lines"}, "transform": [{"filter": "datum.p=='f' && datum.k=='valid'"}], "mark": {"type": "line", "strokeWidth": 2, "strokeDash": [8.3, 3.6]}},
        {"data": {"name": "marks"}, "transform": [{"filter": "datum.p=='f' && (datum.k=='rc' || datum.k=='bc')"}], "mark": {"type": "point", "shape": "circle", "filled": true, "size": 55, "opacity": 1}},
        {"data": {"name": "marks"}, "transform": [{"filter": "datum.p=='f' && datum.k=='star'"}], "mark": {"type": "point", "shape": "M0,-1L0.225,-0.309L0.951,-0.309L0.363,0.118L0.588,0.809L0,0.382L-0.588,0.809L-0.363,0.118L-0.951,-0.309L-0.225,-0.309Z", "filled": true, "size": 120, "opacity": 1}},
        {"data": {"name": "marks"}, "transform": [{"filter": "datum.p=='f' && datum.k=='tri'"}], "mark": {"type": "point", "shape": "M0,0L0,-1M0,0L-0.87,0.5M0,0L0.87,0.5", "filled": false, "size": 120, "strokeWidth": 1.5, "opacity": 1}}
      ]
    }
  ]
}
